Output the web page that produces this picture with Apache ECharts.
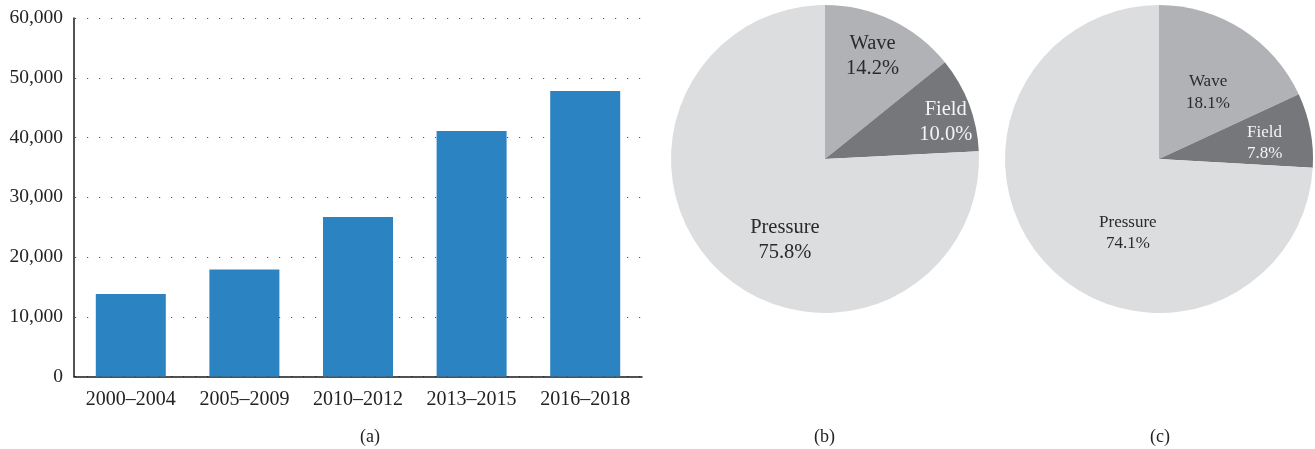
<!DOCTYPE html>
<html>
<head>
<meta charset="utf-8">
<script src="https://cdn.jsdelivr.net/npm/echarts@6/dist/echarts.min.js"></script>
<style>
html,body{margin:0;padding:0;background:#fff;}
#chart{width:1315px;height:449px;}
</style>
</head>
<body>
<div id="chart"></div>
<script>
// ---- data ----
const periods = ['2000–2004', '2005–2009', '2010–2012', '2013–2015', '2016–2018'];
const counts = [13800, 17900, 26700, 41100, 47800];
const yTicks = [0, 10000, 20000, 30000, 40000, 50000, 60000];

const pieNames = ['Wave', 'Field', 'Pressure'];
const pieB = [14.2, 10.0, 75.8];
const pieC = [18.1, 7.8, 74.1];

const captions = ['(a)', '(b)', '(c)'];

// ---- styles ----
const FONT = '"Liberation Serif", "DejaVu Serif", serif';
const sliceColors = ['#b1b2b5', '#76777b', '#dcdddf'];
const labelColors = ['#2a2a2a', '#f4f4f4', '#2a2a2a'];
const offsetsB = [[13, -31], [46, -8], [15, 23]];
const offsetsC = [[6, 1], [27, -1], [27, 19]];

function fmtThousands(v) {
  return String(v).replace(/\B(?=(\d{3})+(?!\d))/g, ',');
}

function pieData(values, offsets, fontSize, lineHeight) {
  return pieNames.map((n, i) => ({
    name: n,
    value: values[i],
    itemStyle: { color: sliceColors[i] },
    label: {
      color: labelColors[i],
      offset: offsets[i],
      fontSize: fontSize,
      lineHeight: lineHeight
    }
  }));
}

const chart = echarts.init(document.getElementById('chart'), null, { renderer: 'canvas' });

const captionStyle = { fontFamily: FONT, fontSize: 18, fontWeight: 'normal', color: '#222' };

const option = {
  animation: false,
  backgroundColor: '#ffffff',
  textStyle: { fontFamily: FONT },
  title: [
    { text: captions[0], left: 360, top: 428, padding: 0, textStyle: captionStyle },
    { text: captions[1], left: 814, top: 428, padding: 0, textStyle: captionStyle },
    { text: captions[2], left: 1150, top: 428, padding: 0, textStyle: captionStyle }
  ],
  grid: { left: 74, top: 18, width: 568, height: 358.5, containLabel: false },
  xAxis: {
    type: 'category',
    data: periods,
    axisLine: { show: true, lineStyle: { color: '#1a1a1a', width: 1.5 } },
    axisTick: { show: false },
    axisLabel: { fontFamily: FONT, fontSize: 20, color: '#222', margin: 13, interval: 0, hideOverlap: false },
    splitLine: { show: false }
  },
  yAxis: {
    type: 'value',
    min: yTicks[0],
    max: yTicks[yTicks.length - 1],
    interval: yTicks[1] - yTicks[0],
    axisLine: { show: true, lineStyle: { color: '#1a1a1a', width: 1.5 } },
    axisTick: { show: false },
    axisLabel: { fontFamily: FONT, fontSize: 19.5, color: '#222', margin: 11, formatter: fmtThousands },
    splitLine: { show: true, lineStyle: { color: '#555', width: 1.2, type: [1.2, 10.8], dashOffset: -1 } }
  },
  series: [
    {
      type: 'bar',
      data: counts,
      barWidth: 70,
      itemStyle: { color: '#2b83c1' },
      z: 3
    },
    {
      type: 'pie',
      center: [825, 159],
      radius: [0, 154],
      startAngle: 90,
      clockwise: true,
      avoidLabelOverlap: false,
      label: {
        show: true,
        position: 'inside',
        fontFamily: FONT,
        formatter: p => p.name + '\n' + p.value.toFixed(1) + '%'
      },
      labelLine: { show: false },
      emphasis: { disabled: true },
      itemStyle: { borderWidth: 0 },
      data: pieData(pieB, offsetsB, 20.5, 25)
    },
    {
      type: 'pie',
      center: [1159, 159],
      radius: [0, 154],
      startAngle: 90,
      clockwise: true,
      avoidLabelOverlap: false,
      label: {
        show: true,
        position: 'inside',
        fontFamily: FONT,
        formatter: p => p.name + '\n' + p.value.toFixed(1) + '%'
      },
      labelLine: { show: false },
      emphasis: { disabled: true },
      itemStyle: { borderWidth: 0 },
      data: pieData(pieC, offsetsC, 17, 21.5)
    }
  ]
};

chart.setOption(option);
</script>
</body>
</html>
